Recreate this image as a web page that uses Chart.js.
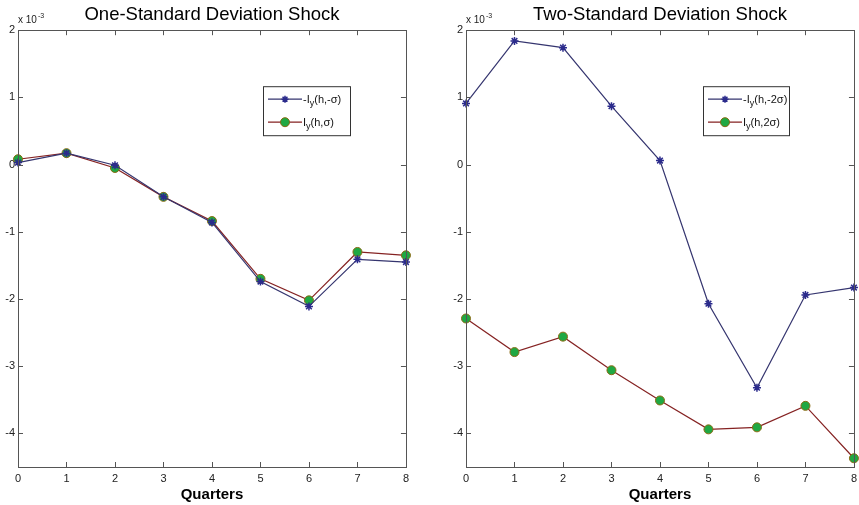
<!DOCTYPE html>
<html>
<head>
<meta charset="utf-8">
<script src="https://cdn.jsdelivr.net/npm/chart.js@4.4.1/dist/chart.umd.min.js"></script>
<style>
  body { margin: 0; background: #fff; width: 859px; height: 505px; position: relative; overflow: hidden; }
  canvas { position: absolute; top: 0; }
  #left { left: 0; }
  #right { left: 448px; }
</style>
</head>
<body>
<canvas id="left" width="414" height="505"></canvas>
<canvas id="right" width="414" height="505"></canvas>
<script>
// values in units of 10^-3
const quarters = ["0", "1", "2", "3", "4", "5", "6", "7", "8"];
const oneSdNeg = [0.03, 0.17, -0.01, -0.48, -0.86, -1.74, -2.11, -1.41, -1.45];
const oneSdPos = [0.08, 0.17, -0.05, -0.48, -0.84, -1.70, -2.02, -1.30, -1.35];
const twoSdNeg = [0.91, 1.84, 1.74, 0.87, 0.06, -2.07, -3.32, -1.94, -1.83];
const twoSdPos = [-2.29, -2.79, -2.56, -3.06, -3.51, -3.94, -3.91, -3.59, -4.37];
const yTicks = [-4, -3, -2, -1, 0, 1, 2];

const FONT = "'Liberation Sans', Arial, sans-serif";
const BLUE = "#2b2b8c";
const BLUE_LINE = "#35356f";
const RED_LINE = "#852222";
const GREEN = "#1fa843";
const GREEN_EDGE = "#8a6a12";

function drawStar(ctx, x, y, r) {
  ctx.beginPath();
  ctx.moveTo(x - r, y); ctx.lineTo(x + r, y);
  ctx.moveTo(x, y - r); ctx.lineTo(x, y + r);
  const d = r * 0.7;
  ctx.moveTo(x - d, y - d); ctx.lineTo(x + d, y + d);
  ctx.moveTo(x - d, y + d); ctx.lineTo(x + d, y - d);
  ctx.stroke();
}

// matlab-like frame, inward ticks, exponent label and boxed legend
const framePlugin = {
  id: "frame",
  afterDraw(chart, args, opts) {
    const ctx = chart.ctx;
    const a = chart.chartArea;
    const xs = chart.scales.x, ys = chart.scales.y;
    ctx.save();
    ctx.strokeStyle = "#555";
    ctx.lineWidth = 1;
    ctx.strokeRect(Math.round(a.left) + 0.5, Math.round(a.top) + 0.5,
      Math.round(a.right - a.left), Math.round(a.bottom - a.top));
    ctx.beginPath();
    xs.ticks.forEach((t, i) => {
      const px = Math.round(xs.getPixelForTick(i)) + 0.5;
      ctx.moveTo(px, a.bottom); ctx.lineTo(px, a.bottom - 5);
      ctx.moveTo(px, a.top); ctx.lineTo(px, a.top + 5);
    });
    ys.ticks.forEach(t => {
      const py = Math.round(ys.getPixelForValue(t.value)) + 0.5;
      ctx.moveTo(a.left, py); ctx.lineTo(a.left + 5, py);
      ctx.moveTo(a.right, py); ctx.lineTo(a.right - 5, py);
    });
    ctx.stroke();

    // exponent
    ctx.fillStyle = "#222";
    ctx.textBaseline = "alphabetic";
    ctx.textAlign = "left";
    ctx.font = "10px " + FONT;
    ctx.fillText("x 10", a.left, a.top - 7);
    const w = ctx.measureText("x 10").width;
    ctx.font = "7px " + FONT;
    ctx.fillText("-3", a.left + w + 1, a.top - 12);

    // legend box
    const L = opts.legend;
    const bx = a.left + L.x, by = a.top + L.y;
    ctx.fillStyle = "#fff";
    ctx.fillRect(bx, by, L.w, L.h);
    ctx.strokeStyle = "#333";
    ctx.strokeRect(bx + 0.5, by + 0.5, L.w, L.h);
    const rows = [
      { y: by + 13, color: BLUE_LINE, marker: "star", pre: "-I", post: L.labels[0] },
      { y: by + 36, color: RED_LINE, marker: "circle", pre: "I", post: L.labels[1] }
    ];
    rows.forEach(r => {
      const x0 = bx + 5, x1 = bx + 39, mx = (x0 + x1) / 2;
      ctx.strokeStyle = r.color;
      ctx.lineWidth = 1.2;
      ctx.beginPath(); ctx.moveTo(x0, r.y); ctx.lineTo(x1, r.y); ctx.stroke();
      if (r.marker === "star") {
        ctx.strokeStyle = BLUE; ctx.lineWidth = 1.5;
        drawStar(ctx, mx, r.y, 3.5);
      } else {
        ctx.fillStyle = GREEN; ctx.strokeStyle = GREEN_EDGE; ctx.lineWidth = 1;
        ctx.beginPath(); ctx.arc(mx, r.y, 4.5, 0, Math.PI * 2); ctx.fill(); ctx.stroke();
      }
      ctx.fillStyle = "#111";
      ctx.font = "11px " + FONT;
      let tx = x1 + 1;
      ctx.fillText(r.pre, tx, r.y + 4);
      tx += ctx.measureText(r.pre).width;
      ctx.font = "9px " + FONT;
      ctx.fillText("y", tx, r.y + 7);
      tx += ctx.measureText("y").width;
      ctx.font = "11px " + FONT;
      ctx.fillText(r.post, tx, r.y + 4);
    });
    ctx.restore();
  }
};

function makeChart(id, title, negData, posData, legend) {
  return new Chart(document.getElementById(id), {
    type: "line",
    data: {
      labels: quarters,
      datasets: [
        {
          data: negData,
          borderColor: BLUE_LINE,
          borderWidth: 1.2,
          pointStyle: "star",
          pointRadius: 4,
          pointBorderColor: BLUE,
          pointBackgroundColor: BLUE,
          pointBorderWidth: 1.5,
          tension: 0,
          clip: false
        },
        {
          data: posData,
          borderColor: RED_LINE,
          borderWidth: 1.2,
          pointStyle: "circle",
          pointRadius: 4.5,
          pointBorderColor: GREEN_EDGE,
          pointBackgroundColor: GREEN,
          pointBorderWidth: 1,
          tension: 0,
          clip: false
        }
      ]
    },
    options: {
      responsive: false,
      animation: false,
      events: [],
      layout: { padding: 0 },
      plugins: {
        legend: { display: false },
        tooltip: { enabled: false },
        title: {
          display: true,
          fullSize: false,
          text: title,
          color: "#000",
          font: { family: FONT, size: 18.5, weight: "normal" },
          padding: { top: 4, bottom: 4 }
        },
        frame: { legend: legend }
      },
      scales: {
        x: {
          type: "category",
          offset: false,
          grid: { display: false, drawTicks: false },
          border: { display: false },
          ticks: { color: "#222", font: { family: FONT, size: 11 }, padding: 5, maxRotation: 0 },
          title: {
            display: true,
            text: "Quarters",
            color: "#000",
            font: { family: FONT, size: 15, weight: "bold" },
            padding: { top: 0, bottom: 1 }
          },
          afterFit(scale) { scale.height = 38; }
        },
        y: {
          min: -4.5,
          max: 2,
          grid: { display: false, drawTicks: false },
          border: { display: false },
          afterBuildTicks(axis) { axis.ticks = yTicks.map(v => ({ value: v })); },
          ticks: { color: "#222", font: { family: FONT, size: 11 }, padding: 3 },
          afterFit(scale) { scale.width = 18; }
        }
      }
    },
    plugins: [framePlugin]
  });
}

makeChart("left", "One-Standard Deviation Shock", oneSdNeg, oneSdPos,
  { x: 245, y: 56, w: 87, h: 49, labels: ["(h,-\u03c3)", "(h,\u03c3)"] });
makeChart("right", "Two-Standard Deviation Shock", twoSdNeg, twoSdPos,
  { x: 237, y: 56, w: 86, h: 49, labels: ["(h,-2\u03c3)", "(h,2\u03c3)"] });
</script>
</body>
</html>
